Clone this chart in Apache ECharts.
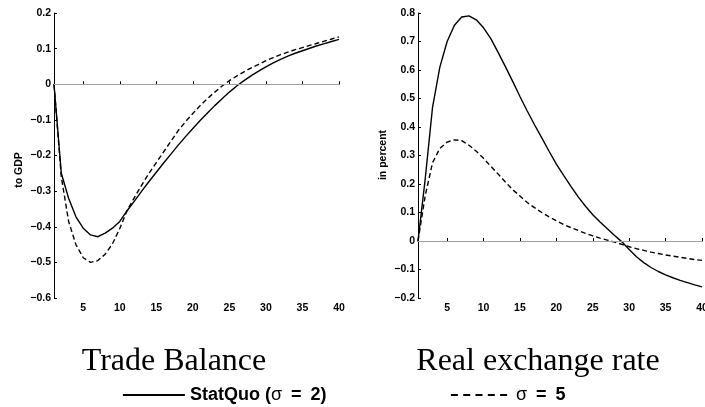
<!DOCTYPE html>
<html>
<head>
<meta charset="utf-8">
<script src="https://cdn.jsdelivr.net/npm/echarts@6/dist/echarts.min.js"></script>
<style>
html,body{margin:0;padding:0;background:#fff;}
#chart{width:705px;height:407px;}
</style>
</head>
<body>
<div id="chart"></div>
<script>
// ---- data ----
const periods = [1,2,3,4,5,6,7,8,9,10,11,12,13,14,15,16,17,18,19,20,21,22,23,24,25,26,27,28,29,30,31,32,33,34,35,36,37,38,39,40];
const xTicks = [5,10,15,20,25,30,35,40];
const tbTicks = [-0.6,-0.5,-0.4,-0.3,-0.2,-0.1,0,0.1,0.2];
const rerTicks = [-0.2,-0.1,0,0.1,0.2,0.3,0.4,0.5,0.6,0.7,0.8];

const seriesNames = ['StatQuo (\u03c3\u2002=\u20022)', '\u03c3\u2002=\u20025'];
const panelTitles = ['Trade Balance', 'Real exchange rate'];
const yNames = ['to GDP', 'in percent'];

const tradeBalanceStatQuo = [0,-0.25,-0.32,-0.372,-0.404,-0.423,-0.428,-0.418,-0.404,-0.385,-0.355,-0.328,-0.3,-0.273,-0.247,-0.221,-0.196,-0.171,-0.147,-0.124,-0.102,-0.081,-0.06,-0.041,-0.022,-0.005,0.01,0.024,0.037,0.049,0.06,0.07,0.079,0.087,0.094,0.101,0.108,0.114,0.12,0.126];
const tradeBalanceSigma5 = [0,-0.26,-0.385,-0.45,-0.487,-0.5,-0.495,-0.477,-0.448,-0.405,-0.355,-0.318,-0.283,-0.25,-0.22,-0.19,-0.16,-0.13,-0.105,-0.082,-0.06,-0.04,-0.022,-0.005,0.01,0.023,0.035,0.046,0.056,0.066,0.075,0.083,0.09,0.097,0.103,0.109,0.115,0.121,0.127,0.133];
const rerStatQuo = [0,0.22,0.47,0.61,0.7,0.757,0.786,0.79,0.776,0.748,0.71,0.662,0.612,0.56,0.507,0.456,0.408,0.362,0.315,0.27,0.23,0.192,0.155,0.122,0.092,0.067,0.043,0.019,-0.003,-0.03,-0.055,-0.076,-0.093,-0.107,-0.119,-0.129,-0.138,-0.146,-0.154,-0.161];
const rerSigma5 = [0,0.16,0.275,0.325,0.347,0.355,0.352,0.336,0.315,0.29,0.262,0.235,0.207,0.18,0.158,0.135,0.117,0.1,0.085,0.071,0.058,0.047,0.037,0.027,0.018,0.01,0.003,-0.004,-0.012,-0.02,-0.027,-0.033,-0.039,-0.044,-0.049,-0.053,-0.057,-0.061,-0.065,-0.068];

// ---- helpers ----
const zip = (xs, ys) => xs.map((x, i) => [x, ys[i]]);
const SANS = '"Liberation Sans", Arial, sans-serif';
const SERIF = '"Liberation Serif", "Times New Roman", serif';
const fmtY = v => {
  if (Math.abs(v) < 1e-9) return '0';
  return (v < 0 ? '\u2212' : '') + Math.abs(v).toFixed(1);
};

const grids = [
  {left: 54, top: 13, width: 285, height: 285, outerBoundsMode: 'none', containLabel: false},
  {left: 418, top: 13, width: 284, height: 285, outerBoundsMode: 'none', containLabel: false}
];

function xAxisDef(gi) {
  return {
    type: 'value', gridIndex: gi, min: periods[0], max: periods[periods.length - 1],
    axisLine: {show: true, lineStyle: {color: '#000', width: 1}},
    axisTick: {show: true, inside: true, length: 3, customValues: xTicks, lineStyle: {color: '#000'}},
    axisLabel: {show: true, customValues: xTicks, margin: 5, color: '#000', fontFamily: SANS, fontWeight: 'bold', fontSize: 10.5, hideOverlap: false},
    splitLine: {show: false}
  };
}
function yAxisDef(gi, ticks) {
  return {
    type: 'value', gridIndex: gi, min: ticks[0], max: ticks[ticks.length - 1], interval: 0.1,
    axisLine: {show: true, onZero: false, lineStyle: {color: '#000', width: 1}},
    axisTick: {show: true, inside: true, length: 3, lineStyle: {color: '#000'}},
    axisLabel: {show: true, margin: 3, color: '#000', fontFamily: SANS, fontWeight: 'bold', fontSize: 10.5, formatter: fmtY},
    splitLine: {show: false}
  };
}
const zeroLine = {
  silent: true, symbol: 'none', label: {show: false},
  lineStyle: {color: '#a0a0a0', width: 1, type: 'solid'},
  emphasis: {disabled: true},
  data: [{yAxis: 0}]
};
function lineSeries(name, gi, values, dashed, withZero) {
  const s = {
    name: name, type: 'line', xAxisIndex: gi, yAxisIndex: gi,
    data: zip(periods, values), symbol: 'none', smooth: false,
    lineStyle: {color: '#000', width: 1.4, type: dashed ? [5, 3] : 'solid'},
    itemStyle: {color: '#000'},
    emphasis: {disabled: true}, animation: false, z: 3
  };
  if (withZero) s.markLine = zeroLine;
  return s;
}
const legendText = {
  color: '#000', fontFamily: SANS, fontWeight: 'bold', fontSize: 18,
  rich: {s: {color: '#000', fontFamily: SANS, fontWeight: 'normal', fontSize: 18}}
};
const legendFmt = name => name.replace('\u03c3', '{s|\u03c3}');

const chart = echarts.init(document.getElementById('chart'), null, {renderer: 'canvas'});
chart.setOption({
  animation: false,
  backgroundColor: '#fff',
  grid: grids,
  xAxis: [xAxisDef(0), xAxisDef(1)],
  yAxis: [yAxisDef(0, tbTicks), yAxisDef(1, rerTicks)],
  legend: [
    {
      data: [{name: seriesNames[0]}], left: 117, top: 381, itemWidth: 62, itemHeight: 18,
      selectedMode: false, formatter: legendFmt,
      itemStyle: {opacity: 0, color: 'rgba(0,0,0,0)', borderWidth: 0},
      lineStyle: {color: '#000', width: 1.8, type: 'solid', opacity: 1},
      textStyle: legendText
    },
    {
      data: [{name: seriesNames[1]}], left: 445, top: 381, itemWidth: 60, itemHeight: 18,
      selectedMode: false, formatter: legendFmt,
      itemStyle: {opacity: 0, color: 'rgba(0,0,0,0)', borderWidth: 0},
      lineStyle: {color: '#000', width: 1.8, type: [7, 5.3], opacity: 1},
      textStyle: legendText
    }
  ],
  graphic: [
    {type: 'text', x: 174, y: 362, style: {text: panelTitles[0], font: '32px ' + SERIF, fill: '#000', textAlign: 'center', textVerticalAlign: 'middle', align: 'center', verticalAlign: 'middle'}},
    {type: 'text', x: 538, y: 362, style: {text: panelTitles[1], font: '32px ' + SERIF, fill: '#000', textAlign: 'center', textVerticalAlign: 'middle', align: 'center', verticalAlign: 'middle'}},
    {type: 'text', x: 19, y: 170, rotation: Math.PI / 2, style: {text: yNames[0], font: 'bold 10.5px ' + SANS, fill: '#000', textAlign: 'center', textVerticalAlign: 'middle', align: 'center', verticalAlign: 'middle'}},
    {type: 'text', x: 383, y: 155, rotation: Math.PI / 2, style: {text: yNames[1], font: 'bold 10.5px ' + SANS, fill: '#000', textAlign: 'center', textVerticalAlign: 'middle', align: 'center', verticalAlign: 'middle'}}
  ],
  series: [
    lineSeries(seriesNames[0], 0, tradeBalanceStatQuo, false, true),
    lineSeries(seriesNames[1], 0, tradeBalanceSigma5, true, false),
    lineSeries(seriesNames[0], 1, rerStatQuo, false, true),
    lineSeries(seriesNames[1], 1, rerSigma5, true, false)
  ]
});
</script>
</body>
</html>
